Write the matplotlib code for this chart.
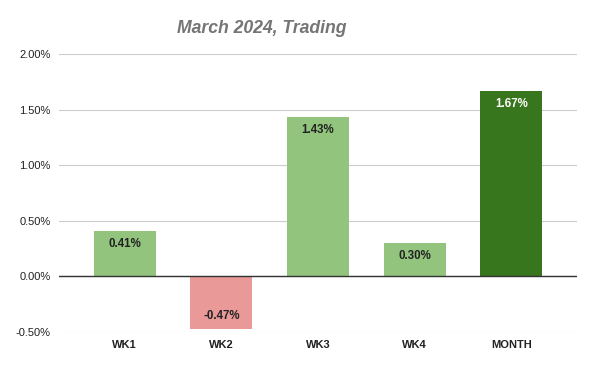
import matplotlib
matplotlib.use("Agg")
import matplotlib.pyplot as plt
from matplotlib.ticker import FuncFormatter, MultipleLocator

categories = ["WK1", "WK2", "WK3", "WK4", "MONTH"]
values = [0.0041, -0.0047, 0.0143, 0.0030, 0.0167]
colors = ["#93C47D", "#EA9999", "#93C47D", "#93C47D", "#38761D"]
label_colors = ["#222222", "#222222", "#222222", "#222222", "#FFFFFF"]

plt.rcParams['font.family'] = ['Liberation Sans', 'DejaVu Sans']

fig = plt.figure(figsize=(5.9, 3.65), dpi=100)
ax = fig.add_axes([0.1, 0.0904, 0.878, 0.7616])

x = range(len(categories))
bars = ax.bar(x, values, width=0.64, color=colors, zorder=3)

for xi, v, lc in zip(x, values, label_colors):
    if v >= 0:
        ax.annotate(f"{v*100:.2f}%", (xi, v), xytext=(0, -5), textcoords="offset points",
                    ha="center", va="top", fontsize=8.3, fontweight="bold", color=lc, zorder=4)
    else:
        ax.annotate(f"{v*100:.2f}%", (xi, v), xytext=(0, 5), textcoords="offset points",
                    ha="center", va="bottom", fontsize=8.3, fontweight="bold", color=lc, zorder=4)

ax.set_ylim(-0.005, 0.02)
ax.set_xlim(-0.68, 4.68)
ax.yaxis.set_major_locator(MultipleLocator(0.005))
ax.yaxis.set_major_formatter(FuncFormatter(lambda v, p: f"{v*100:.2f}%"))
ax.grid(axis="y", color="#CCCCCC", linewidth=0.8, zorder=0)
ax.axhline(0, color="#333333", linewidth=1.0, zorder=4)
for s in ax.spines.values():
    s.set_visible(False)
ax.tick_params(axis="both", length=0, labelsize=8, colors="#222222")
ax.tick_params(axis="y", pad=6)
ax.tick_params(axis="x", pad=6)
ax.set_xticks(list(x))
ax.set_xticklabels(categories, fontweight="bold")

fig.text(0.444, 0.923, "March 2024, Trading", ha="center", va="center",
         fontsize=12.7, fontweight="bold", fontstyle="italic", color="#757575")

fig.savefig("out.png", dpi=100)
